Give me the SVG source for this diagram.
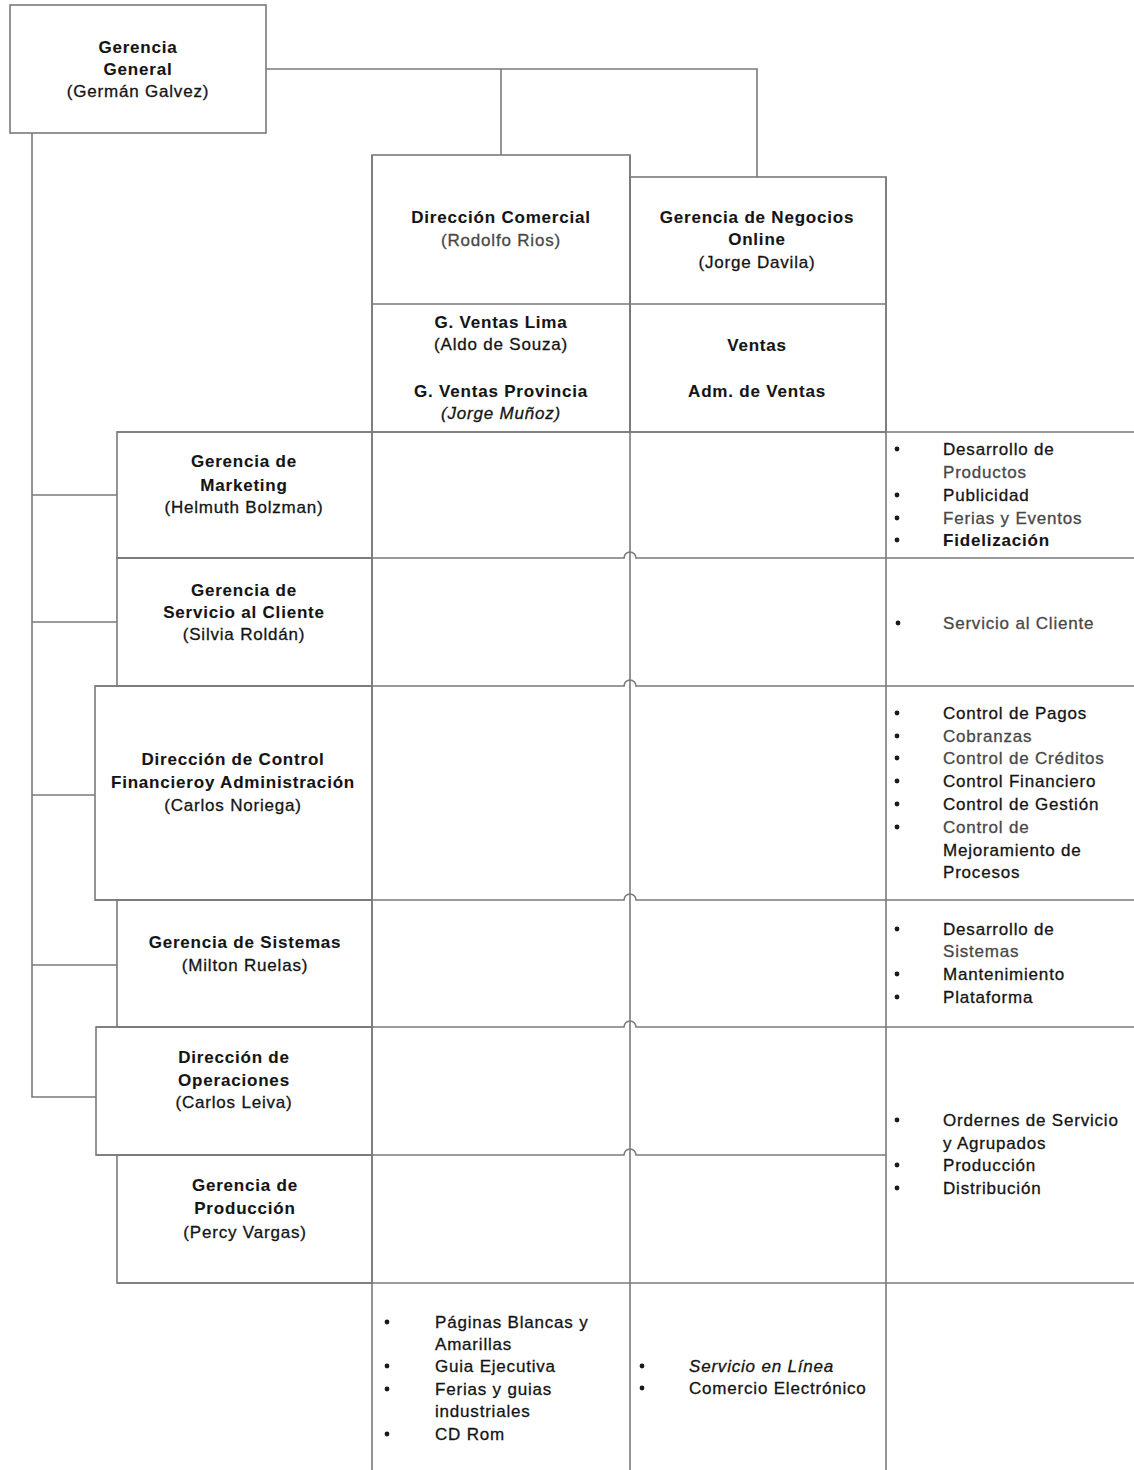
<svg xmlns="http://www.w3.org/2000/svg" width="1134" height="1470" viewBox="0 0 1134 1470">
<style>
.bg{fill:#fff}
.box{fill:none;stroke:#7a7a7a;stroke-width:1.6}
.ln{fill:none;stroke:#7a7a7a;stroke-width:1.6}
.t{font-family:"Liberation Sans",Arial,sans-serif;font-size:17px;letter-spacing:0.8px;fill:#141414;stroke:#141414;stroke-width:0.3}
.b{font-weight:bold;stroke-width:0.1}
.c{text-anchor:middle}
.g{fill:#484848;stroke:#484848}
.i{font-style:italic}
.dot{fill:#1a1a1a}
</style>
<rect class="bg" x="0" y="0" width="1134" height="1470"/>

<g id="connectors">
  <path class="ln" d="M266 69 H757 V177"/>
  <path class="ln" d="M501 69 V155"/>
  <path class="ln" d="M32 133 V1097 H96"/>
  <path class="ln" d="M32 495 H117"/>
  <path class="ln" d="M32 622 H117"/>
  <path class="ln" d="M32 795 H95"/>
  <path class="ln" d="M32 965 H117"/>
</g>

<g id="grid">
  <path class="ln" d="M117 432 H1134"/>
  <path class="ln" d="M117 558 H624 a6 6 0 0 1 12 0 H1134"/>
  <path class="ln" d="M95 686 H624 a6 6 0 0 1 12 0 H1134"/>
  <path class="ln" d="M95 900 H624 a6 6 0 0 1 12 0 H1134"/>
  <path class="ln" d="M96 1027 H624 a6 6 0 0 1 12 0 H1134"/>
  <path class="ln" d="M96 1155 H624 a6 6 0 0 1 12 0 H886"/>
  <path class="ln" d="M117 1283 H1134"/>
  <path class="ln" d="M372 155 V1470"/>
  <path class="ln" d="M630 155 V1470"/>
  <path class="ln" d="M886 177 V1470"/>
</g>

<g id="n-gerencia-general">
  <rect class="box" x="10" y="5" width="256" height="128"/>
  <text class="t b c" x="138" y="53">Gerencia</text>
  <text class="t b c" x="138" y="75">General</text>
  <text class="t c" x="138" y="97">(Germán Galvez)</text>
</g>

<g id="n-direccion-comercial">
  <rect class="box" x="372" y="155" width="258" height="277"/>
  <line class="ln" x1="372" y1="304" x2="630" y2="304"/>
  <text class="t b c" x="501" y="223">Dirección Comercial</text>
  <text class="t g c" x="501" y="246">(Rodolfo Rios)</text>
  <text class="t b c" x="501" y="328">G. Ventas Lima</text>
  <text class="t c" x="501" y="350">(Aldo de Souza)</text>
  <text class="t b c" x="501" y="397">G. Ventas Provincia</text>
  <text class="t i c" x="501" y="419">(Jorge Muñoz)</text>
</g>

<g id="n-negocios-online">
  <rect class="box" x="630" y="177" width="256" height="255"/>
  <line class="ln" x1="630" y1="304" x2="886" y2="304"/>
  <text class="t b c" x="757" y="223">Gerencia de Negocios</text>
  <text class="t b c" x="757" y="245">Online</text>
  <text class="t c" x="757" y="268">(Jorge Davila)</text>
  <text class="t b c" x="757" y="351">Ventas</text>
  <text class="t b c" x="757" y="397">Adm. de Ventas</text>
</g>

<g id="n-marketing">
  <rect class="box" x="117" y="432" width="255" height="126"/>
  <text class="t b c" x="244" y="467">Gerencia de</text>
  <text class="t b c" x="244" y="491">Marketing</text>
  <text class="t c" x="244" y="513">(Helmuth Bolzman)</text>
</g>

<g id="n-servicio-cliente">
  <rect class="box" x="117" y="558" width="255" height="128"/>
  <text class="t b c" x="244" y="596">Gerencia de</text>
  <text class="t b c" x="244" y="618">Servicio al Cliente</text>
  <text class="t c" x="244" y="640">(Silvia Roldán)</text>
</g>

<g id="n-control-financiero">
  <rect class="box" x="95" y="686" width="277" height="214"/>
  <text class="t b c" x="233" y="765">Dirección de Control</text>
  <text class="t b c" x="233" y="788">Financieroy Administración</text>
  <text class="t c" x="233" y="811">(Carlos Noriega)</text>
</g>

<g id="n-sistemas">
  <rect class="box" x="117" y="900" width="255" height="127"/>
  <text class="t b c" x="245" y="948">Gerencia de Sistemas</text>
  <text class="t c" x="245" y="971">(Milton Ruelas)</text>
</g>

<g id="n-operaciones">
  <rect class="box" x="96" y="1027" width="276" height="128"/>
  <text class="t b c" x="234" y="1063">Dirección de</text>
  <text class="t b c" x="234" y="1086">Operaciones</text>
  <text class="t c" x="234" y="1108">(Carlos Leiva)</text>
</g>

<g id="n-produccion">
  <rect class="box" x="117" y="1155" width="255" height="128"/>
  <text class="t b c" x="245" y="1191">Gerencia de</text>
  <text class="t b c" x="245" y="1214">Producción</text>
  <text class="t c" x="245" y="1238">(Percy Vargas)</text>
</g>

<g id="n-list-marketing">
  <circle class="dot" cx="897" cy="449" r="2.4"/>
  <circle class="dot" cx="897" cy="495" r="2.4"/>
  <circle class="dot" cx="897" cy="518" r="2.4"/>
  <circle class="dot" cx="897" cy="540" r="2.4"/>
  <text class="t" x="943" y="455">Desarrollo de</text>
  <text class="t g" x="943" y="478">Productos</text>
  <text class="t" x="943" y="501">Publicidad</text>
  <text class="t g" x="943" y="524">Ferias y Eventos</text>
  <text class="t b" x="943" y="546">Fidelización</text>
</g>

<g id="n-list-servicio">
  <circle class="dot" cx="898" cy="623" r="2.4"/>
  <text class="t g" x="943" y="629">Servicio al Cliente</text>
</g>

<g id="n-list-control">
  <circle class="dot" cx="897" cy="713" r="2.4"/>
  <circle class="dot" cx="897" cy="736" r="2.4"/>
  <circle class="dot" cx="897" cy="758" r="2.4"/>
  <circle class="dot" cx="897" cy="781" r="2.4"/>
  <circle class="dot" cx="897" cy="804" r="2.4"/>
  <circle class="dot" cx="897" cy="827" r="2.4"/>
  <text class="t" x="943" y="719">Control de Pagos</text>
  <text class="t g" x="943" y="742">Cobranzas</text>
  <text class="t g" x="943" y="764">Control de Créditos</text>
  <text class="t" x="943" y="787">Control Financiero</text>
  <text class="t" x="943" y="810">Control de Gestión</text>
  <text class="t g" x="943" y="833">Control de</text>
  <text class="t" x="943" y="856">Mejoramiento de</text>
  <text class="t" x="943" y="878">Procesos</text>
</g>

<g id="n-list-sistemas">
  <circle class="dot" cx="897" cy="929" r="2.4"/>
  <circle class="dot" cx="897" cy="974" r="2.4"/>
  <circle class="dot" cx="897" cy="997" r="2.4"/>
  <text class="t" x="943" y="935">Desarrollo de</text>
  <text class="t g" x="943" y="957">Sistemas</text>
  <text class="t" x="943" y="980">Mantenimiento</text>
  <text class="t" x="943" y="1003">Plataforma</text>
</g>

<g id="n-list-operaciones">
  <circle class="dot" cx="897" cy="1120" r="2.4"/>
  <circle class="dot" cx="897" cy="1165" r="2.4"/>
  <circle class="dot" cx="897" cy="1188" r="2.4"/>
  <text class="t" x="943" y="1126">Ordernes de Servicio</text>
  <text class="t" x="943" y="1149">y Agrupados</text>
  <text class="t" x="943" y="1171">Producción</text>
  <text class="t" x="943" y="1194">Distribución</text>
</g>

<g id="n-list-comercial">
  <circle class="dot" cx="387" cy="1322" r="2.4"/>
  <circle class="dot" cx="387" cy="1366" r="2.4"/>
  <circle class="dot" cx="387" cy="1389" r="2.4"/>
  <circle class="dot" cx="387" cy="1434" r="2.4"/>
  <text class="t" x="435" y="1328">Páginas Blancas y</text>
  <text class="t" x="435" y="1350">Amarillas</text>
  <text class="t" x="435" y="1372">Guia Ejecutiva</text>
  <text class="t" x="435" y="1395">Ferias y guias</text>
  <text class="t" x="435" y="1417">industriales</text>
  <text class="t" x="435" y="1440">CD Rom</text>
</g>

<g id="n-list-online">
  <circle class="dot" cx="642" cy="1366" r="2.4"/>
  <circle class="dot" cx="642" cy="1388" r="2.4"/>
  <text class="t i" x="689" y="1372">Servicio en Línea</text>
  <text class="t" x="689" y="1394">Comercio Electrónico</text>
</g>
</svg>
